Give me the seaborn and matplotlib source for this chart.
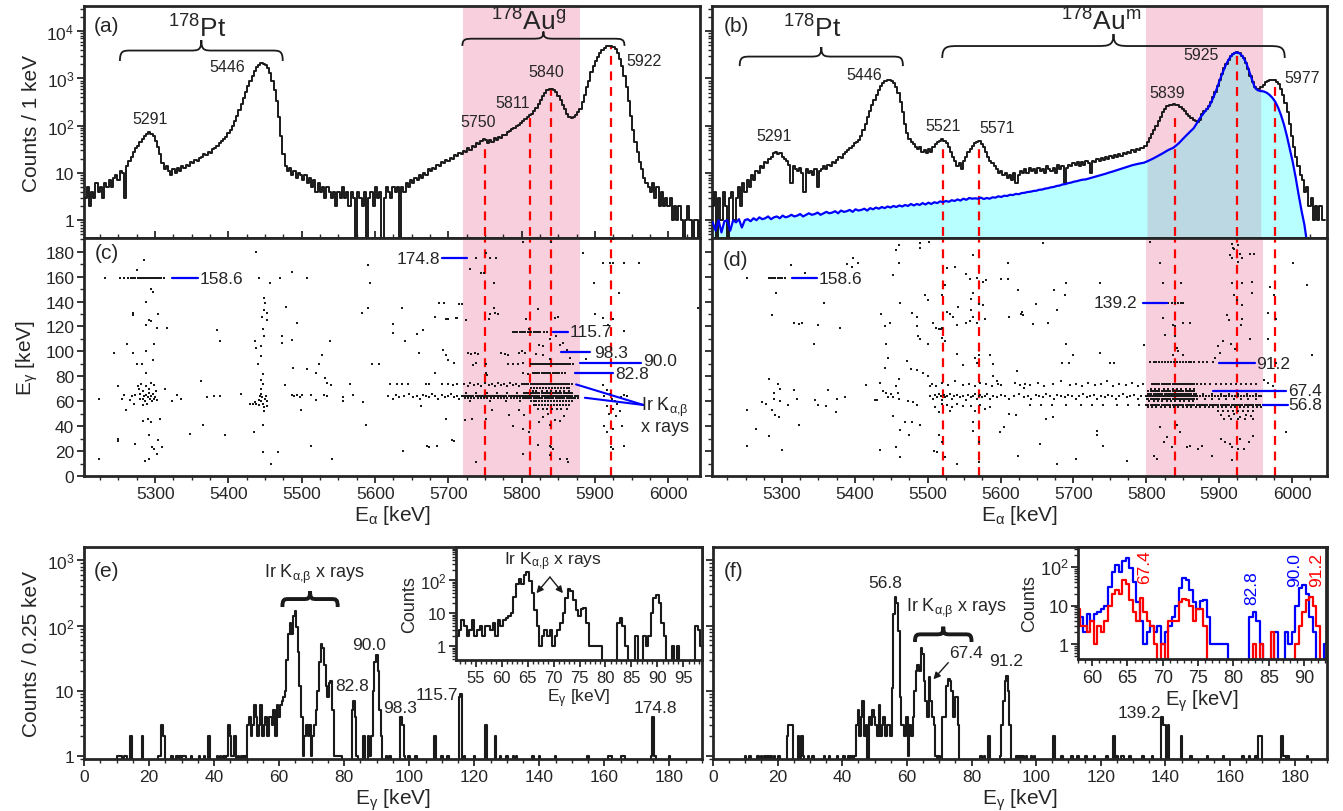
import numpy as np
import matplotlib
matplotlib.use('Agg')
import matplotlib.pyplot as plt
import seaborn as sns
from matplotlib.path import Path
from matplotlib.patches import PathPatch
import matplotlib.transforms as mtransforms
from matplotlib.ticker import MultipleLocator, FixedLocator, FixedFormatter, LogLocator, NullFormatter

# ---------------------------------------------------------------- data
# (a) alpha spectrum, 3 keV steps starting at 5205 keV
a_start, a_step = 5205, 3
a_counts = [
    3, 5, 2, 4, 3, 6, 4, 5, 3, 6,            # 5205
    5, 7, 5, 8, 9, 7, 11, 10, 3, 14,         # 5235
    18, 22, 28, 33, 38, 45, 52, 60, 66, 72,  # 5265
    68, 60, 48, 36, 25, 16, 12, 14, 11, 9,   # 5295
    12, 10, 13, 11, 14, 13, 15, 14, 17, 16,  # 5325
    19, 18, 21, 22, 25, 24, 28, 27, 32, 34,  # 5355
    38, 42, 48, 52, 58, 70, 82, 100, 125, 160,  # 5385
    210, 290, 390, 520, 680, 880, 1100, 1400, 1700, 1950,  # 5415
    2100, 2050, 1900, 1650, 1300, 900, 580, 330, 150, 60,  # 5445
    25, 14, 11, 13, 9, 11, 8, 10, 9, 7,      # 5475
    9, 6, 8, 5, 7, 4, 6, 4, 5, 3,            # 5505
    5, 4, 3, 4, 2, 4, 3, 5, 3, 4,            # 5535
    2, 4, 3, 0.1, 4, 3, 2, 4, 0.1, 3,        # 5565
    4, 2, 5, 3, 4, 0.1, 3, 5, 4, 3,          # 5595
    5, 4, 5, 0.1, 5, 4, 6, 5, 7, 6,          # 5625
    8, 7, 9, 8, 10, 9, 12, 11, 13, 12,       # 5655
    15, 14, 17, 16, 19, 18, 21, 20, 24, 23,  # 5685
    26, 25, 29, 28, 33, 31, 37, 36, 42, 40,  # 5715
    47, 52, 50, 44, 49, 46, 54, 50, 58, 56,  # 5745
    64, 62, 72, 76, 84, 90, 98, 105, 115, 125,  # 5775
    138, 150, 165, 180, 205, 240, 290, 350, 420, 490,  # 5805
    560, 600, 610, 580, 510, 430, 350, 280, 220, 180,  # 5835
    155, 145, 150, 170, 190, 230, 320, 450, 650, 900,  # 5865
    1350, 1800, 2300, 2850, 3400, 3950, 4400, 4750, 4900, 4850,  # 5895
    4600, 4100, 3400, 2600, 1800, 1150, 650, 330, 160, 80,  # 5925
    45, 28, 17, 12, 8, 6, 5, 4, 6, 3,        # 5955
    5, 2, 4, 2, 3, 2, 3, 1, 2, 1,            # 5985
    2, 1, 0.1, 1, 2, 1, 0.1, 1, 1, 0.1,      # 6015
    1]                                       # 6045

# (b) alpha spectrum, 3 keV steps starting at 5205 keV
b_start, b_step = 5205, 3
b_counts = [
    2, 4, 0.1, 3, 1, 4, 2, 0.1, 3, 4,        # 5205
    1, 3, 5, 2, 6, 4, 7, 5, 9, 7,            # 5235
    11, 10, 14, 13, 17, 16, 20, 22, 26, 28,  # 5265
    25, 27, 22, 20, 18, 15, 6, 14, 12, 11,   # 5295
    13, 10, 4, 12, 10, 11, 9, 12, 5, 11,     # 5325
    12, 14, 12, 15, 14, 17, 16, 19, 22, 21,  # 5355
    25, 28, 30, 34, 38, 42, 45, 50, 60, 80,  # 5385
    110, 150, 200, 270, 350, 450, 560, 680, 800, 880,  # 5415
    920, 940, 900, 800, 650, 480, 320, 190, 110, 70,   # 5445
    52, 45, 40, 36, 32, 35, 28, 30, 26, 32,  # 5475
    28, 36, 40, 45, 48, 52, 48, 42, 35, 28,  # 5505
    22, 18, 14, 16, 12, 18, 22, 28, 32, 38,  # 5535
    42, 45, 48, 40, 35, 28, 22, 18, 16, 14,  # 5565
    12, 10, 11, 9, 10, 8, 9, 7, 10, 6,       # 5595
    9, 11, 10, 12, 10, 13, 11, 12, 10, 13,   # 5625
    11, 12, 10, 14, 12, 11, 13, 10, 15, 12,  # 5655
    14, 6, 13, 15, 14, 16, 15, 17, 14, 17,   # 5685
    15, 18, 16, 10, 18, 17, 20, 18, 21, 19,  # 5715
    22, 20, 23, 21, 24, 22, 25, 23, 27, 25,  # 5745
    28, 26, 30, 28, 32, 30, 34, 33, 38, 45,  # 5775
    55, 68, 82, 100, 125, 155, 190, 225, 255, 270,     # 5805
    280, 285, 280, 270, 250, 225, 200, 175, 160, 145,  # 5835
    130, 125, 122, 130, 175, 200, 225, 260, 310, 400,  # 5865
    520, 700, 930, 1250, 1650, 2050, 2500, 2950, 3300, 3500,  # 5895
    3560, 3380, 3000, 2650, 2150, 1600, 1150, 850, 660, 590,  # 5925
    600, 660, 740, 820, 880, 920, 930, 910, 850, 750,  # 5955
    600, 450, 300, 190, 110, 60, 35, 22, 14, 9,        # 5985
    7, 4, 5, 2, 3, 1, 2, 1, 2, 1,            # 6015
    1]                                       # 6045

# (b) fitted 178Au^m contribution (blue), 4 keV steps starting at 5205 keV
bfit_start, bfit_step = 5205, 4
bfit_counts = [
    0.9, 0.6, 1.0, 0.55, 0.95, 1.0, 0.6, 1.0, 0.9, 1.05,   # 5205
    0.7, 1.0, 1.05, 0.95, 1.1, 1.0, 1.15, 1.05, 1.1, 1.2,   # 5245
    1.05, 1.15, 1.2, 1.1, 1.25, 1.15, 1.2, 1.3, 1.2, 1.25,  # 5285
    1.35, 1.2, 1.3, 1.4, 1.3, 1.35, 1.45, 1.3, 1.4, 1.5,    # 5325
    1.4, 1.45, 1.55, 1.4, 1.6, 1.5, 1.55, 1.65, 1.5, 1.7,   # 5365
    1.6, 1.65, 1.75, 1.6, 1.8, 1.7, 1.85, 1.75, 1.9, 1.8,   # 5405
    1.95, 1.85, 2.0, 1.9, 2.05, 1.95, 2.1, 2.0, 2.2, 2.05,  # 5445
    2.2, 2.1, 2.3, 2.15, 2.35, 2.2, 2.4, 2.3, 2.5, 2.4,     # 5485
    2.55, 2.45, 2.65, 2.55, 2.75, 2.6, 2.85, 2.7, 2.95, 2.85,  # 5525
    2.9, 2.85, 3.0, 2.8, 2.95, 2.85, 3.05, 3.0, 3.2, 3.1,   # 5565
    3.3, 3.25, 3.45, 3.4, 3.6, 3.55, 3.75, 3.8, 3.95, 4.0,  # 5605
    4.15, 4.2, 4.4, 4.45, 4.65, 4.75, 4.95, 5.05, 5.3, 5.4,  # 5645
    5.7, 5.8, 6.1, 6.25, 6.55, 6.7, 7.0, 7.2, 7.3, 7.6,     # 5685
    7.9, 8.2, 8.6, 8.9, 9.3, 9.7, 10.2, 10.6, 11.1, 11.6,   # 5725
    12.2, 12.8, 13.4, 14.0, 14.6, 15.1, 15.6, 16.0, 16.5, 17.5,  # 5765
    18.7, 20.0, 21.6, 23.3, 25.2, 27.4, 29.8, 32, 34, 38,   # 5805
    43, 50, 58, 67, 77, 88, 110, 140, 170, 205,             # 5845
    240, 310, 430, 620, 930, 1350, 1900, 2500, 3050, 3450,  # 5885
    3550, 3300, 2800, 2150, 1450, 950, 640, 560, 540, 530,  # 5925
    500, 450, 390, 320, 240, 165, 105, 60, 32, 17,          # 5965
    8, 3.5, 1.6, 0.8, 0.3]                                   # 6005

a_peaks = [5750, 5811, 5840, 5922]
a_peak_tops = [44, 147, 630, 4600]
a_peak_labels = ['5750', '5811', '5840', '5922']
a_label_pos = [(5741, 0.504), (5788, 0.586), (5833, 0.716), (5966, 0.763)]
a_other_labels = [('5291', 5293, 0.513), ('5446', 5399, 0.741)]

b_peaks = [5521, 5571, 5839, 5925, 5977]
b_peak_tops = [44, 36, 170, 3100, 750]
b_labels = [('5291', 5289, 0.44), ('5446', 5413, 0.703), ('5521', 5521, 0.487),
            ('5571', 5595, 0.478), ('5839', 5828, 0.629), ('5925', 5875, 0.789),
            ('5977', 6014, 0.69)]

a_gate = (5720, 5880)
b_gate = (5800, 5960)

# (c) alpha-gamma coincidences (E_alpha, E_gamma)
c_pairs = [
    (5224, 62), (5224, 14), (5232, 159), (5244, 99), (5250, 72), (5250, 30), (5250, 28),
    (5255, 62), (5257, 65), (5261, 106), (5260, 53), (5270, 99), (5270, 131), (5270, 129),
    (5272, 26), (5275, 90), (5282, 90),
    (5276, 72), (5278, 70), (5280, 66), (5281, 74), (5283, 62), (5284, 68), (5285, 64),
    (5286, 60), (5287, 72), (5288, 65), (5289, 58), (5290, 63), (5291, 70), (5292, 67),
    (5293, 62), (5294, 75), (5295, 64), (5296, 60), (5297, 66), (5298, 73), (5299, 62),
    (5300, 63), (5301, 68), (5302, 61), (5279, 62), (5284, 57), (5266, 61), (5268, 64),
    (5271, 58), (5273, 65),
    (5285, 173), (5275, 165), (5288, 83), (5288, 140), (5287, 121), (5291, 125), (5295, 124),
    (5295, 150), (5297, 148), (5288, 100), (5297, 93), (5284, 44), (5290, 46), (5286, 12),
    (5292, 14), (5291, 33), (5295, 43), (5296, 23), (5298, 22), (5299, 106), (5302, 18),
    (5304, 130), (5302, 119), (5307, 46), (5304, 29), (5309, 23), (5316, 119), (5314, 70),
    (5323, 60), (5330, 65), (5335, 62), (5348, 34), (5362, 76), (5365, 41), (5371, 63),
    (5380, 64), (5388, 64), (5385, 117), (5388, 108), (5395, 33), (5417, 66),
    (5430, 58), (5433, 58), (5436, 59), (5438, 58), (5441, 57), (5435, 35), (5438, 180),
    (5441, 159), (5436, 108), (5437, 103), (5445, 104), (5445, 96), (5440, 90), (5447, 82),
    (5448, 143), (5450, 139), (5449, 133), (5452, 131), (5446, 128), (5453, 125), (5447, 118),
    (5449, 112), (5441, 61), (5443, 64), (5444, 60), (5445, 66), (5446, 63), (5447, 58),
    (5448, 55), (5449, 52), (5450, 62), (5451, 64), (5452, 60), (5453, 56), (5445, 70),
    (5447, 74), (5444, 77), (5447, 41), (5447, 19),
    (5457, 155), (5458, 10), (5468, 19), (5470, 159), (5473, 112), (5473, 107), (5477, 73),
    (5479, 136), (5486, 164), (5486, 109), (5488, 87), (5494, 123), (5486, 65), (5490, 64),
    (5494, 65), (5497, 63), (5500, 65), (5499, 53), (5507, 159), (5507, 86), (5512, 65),
    (5519, 61), (5513, 24), (5520, 83), (5523, 90), (5528, 97), (5530, 65), (5534, 64),
    (5532, 79), (5535, 75), (5540, 73), (5538, 108), (5541, 14), (5556, 63), (5556, 60),
    (5566, 74), (5570, 65), (5584, 59), (5587, 41), (5582, 131), (5590, 135), (5590, 169),
    (5593, 155), (5596, 90), (5605, 90),
    (5620, 74), (5630, 74), (5637, 74), (5645, 74), (5625, 122), (5625, 115), (5637, 135),
    (5638, 20), (5641, 108), (5657, 114), (5665, 117), (5660, 99), (5662, 56), (5669, 74),
    (5673, 74), (5671, 24), (5673, 23), (5682, 83), (5682, 128), (5685, 24), (5687, 139),
    (5694, 139), (5692, 101), (5696, 46), (5699, 126), (5699, 93), (5708, 28), (5708, 91),
    (5712, 127),
    (5737, 175), (5751, 179), (5756, 175), (5765, 175), (5730, 166), (5744, 163), (5748, 163),
    (5762, 155), (5801, 188), (5840, 188), (5884, 179), (5911, 171), (5920, 171), (5925, 171),
    (5939, 171), (5960, 171), (5925, 190), (5898, 155), (5932, 147), (6040, 135), (5714, 138),
    (5719, 138), (5762, 135), (5764, 131), (5767, 130), (5696, 126), (5710, 127), (5724, 125),
    (5755, 126), (5757, 130), (5806, 126), (5822, 134), (5810, 118), (5845, 127), (5850, 128),
    (5900, 130), (5911, 127), (5925, 126), (5939, 116), (5917, 121),
    (5824, 105), (5829, 104), (5838, 110), (5846, 112), (5852, 105), (5856, 107), (5862, 101),
    (5726, 99), (5731, 98), (5736, 99), (5740, 98), (5772, 99), (5777, 98), (5781, 97),
    (5796, 99), (5800, 100), (5805, 99), (5820, 98), (5829, 97), (5696, 97), (5700, 93),
    (5733, 89), (5737, 91), (5751, 90), (5781, 90), (5788, 90), (5795, 90), (5801, 91),
    (5838, 94), (5866, 95), (5888, 94), (5902, 91), (5751, 83), (5753, 81), (5801, 83),
    (5808, 82), (5691, 74), (5700, 74), (5706, 73), (5712, 74),
    (5723, 45), (5732, 46), (5751, 46), (5760, 53), (5782, 49), (5796, 53), (5803, 49),
    (5788, 40), (5801, 38), (5810, 35), (5824, 43), (5838, 41), (5829, 47), (5836, 50),
    (5845, 45), (5852, 44), (5858, 48), (5838, 24), (5840, 23), (5843, 22), (5801, 18),
    (5822, 25), (5838, 17), (5852, 14), (5861, 14), (5863, 11), (5737, 11), (5705, 29),
    (5911, 73), (5916, 69), (5920, 66), (5923, 62), (5927, 60), (5930, 58), (5916, 56),
    (5925, 54), (5934, 52), (5919, 50), (5929, 48), (5912, 64), (5935, 63), (5940, 65),
    (5944, 64), (5912, 40), (5925, 38), (5937, 40), (5916, 35), (5921, 23), (5925, 22),
    (5939, 24), (5996, 54),
    # sparse part of the 64 keV band
    (5618, 64), (5624, 62), (5629, 65), (5633, 63), (5640, 64), (5646, 66), (5652, 63),
    (5657, 64), (5661, 62), (5665, 65), (5670, 64), (5674, 63), (5678, 66), (5682, 64),
    (5686, 62), (5691, 65), (5695, 63), (5699, 64), (5703, 66), (5707, 63), (5711, 64),
    (5715, 62),
    # sparse part of the 73 keV band
    (5721, 74), (5726, 72), (5730, 75), (5735, 73), (5740, 74), (5745, 72), (5750, 75),
    (5755, 73), (5760, 74), (5764, 72), (5768, 75), (5772, 73), (5776, 74), (5780, 72),
    (5784, 75), (5788, 73), (5792, 74), (5796, 72)]
# (c) dense rows: (E_gamma of row, E_alpha values)
c_rows = [
    (158.6, [5252, 5258, 5263, 5267, 5270, 5273, 5276, 5278, 5280, 5282, 5284, 5286, 5288,
             5290, 5292, 5294, 5296, 5298, 5300, 5302, 5305, 5308, 5312]),
    (115.7, [5788, 5791, 5794, 5797, 5800, 5802, 5805, 5808, 5810, 5813, 5816, 5819, 5822,
             5825, 5830, 5834]),
    (90.0, [5813, 5815, 5817, 5819, 5821, 5823, 5825, 5827, 5829, 5831, 5833, 5835, 5837,
            5839, 5841, 5843, 5845, 5847, 5849, 5851, 5853, 5855, 5857, 5860, 5863, 5866, 5870]),
    (82.8, [5815, 5818, 5821, 5824, 5827, 5830, 5833, 5836, 5839, 5842, 5845, 5848, 5851,
            5855, 5859]),
    (73.5, [5800, 5803, 5806, 5809, 5812, 5814, 5816, 5818,
            5820, 5822, 5824, 5826, 5828, 5830, 5832, 5834, 5836, 5838, 5840, 5842, 5844,
            5846, 5848, 5850, 5852, 5854, 5856, 5858, 5860, 5862, 5865, 5868]),
    (71.0, [5813, 5817, 5821, 5825, 5829, 5833, 5837, 5841, 5845, 5849, 5853, 5857, 5861, 5865]),
    (68.5, [5815, 5820, 5827, 5834, 5840, 5846, 5852, 5858, 5864]),
    (66.5, [5724, 5738, 5752, 5766, 5780, 5794, 5803, 5806, 5809, 5812, 5815, 5818, 5821,
            5824, 5827, 5830, 5833, 5836, 5839, 5842, 5845, 5848, 5851, 5854, 5857, 5860,
            5863, 5866, 5869]),
    (64.5, [5719, 5721, 5723, 5725,
            5728, 5730, 5732, 5734, 5737, 5739, 5741, 5743, 5746, 5748, 5750, 5752, 5755,
            5757, 5759, 5761, 5764, 5766, 5768, 5770, 5773, 5775, 5777, 5779, 5782, 5784,
            5786, 5788, 5791, 5793, 5795, 5797, 5800, 5802, 5804, 5806, 5809, 5811, 5813,
            5815, 5818, 5820, 5822, 5824, 5827, 5829, 5831, 5833, 5836, 5838, 5840, 5842,
            5845, 5847, 5849, 5851, 5854, 5856, 5858, 5860, 5863, 5865, 5867, 5869, 5872,
            5874, 5877]),
    (62.8, [5722, 5726, 5731, 5735, 5740, 5744, 5749, 5753, 5758, 5762, 5767, 5771, 5776,
            5780, 5785, 5789, 5794, 5798, 5801, 5804, 5807, 5810, 5813, 5816, 5819, 5822,
            5825, 5828, 5831, 5834, 5837, 5840, 5843, 5846, 5849, 5852, 5855, 5858, 5861,
            5864, 5867, 5870, 5873, 5876]),
    (60.0, [5730, 5756, 5778, 5798, 5812, 5816, 5820, 5824, 5828, 5832, 5836, 5840, 5844,
            5848, 5852, 5856, 5860, 5864, 5868]),
    (57.0, [5816, 5820, 5824, 5828, 5832, 5836, 5840, 5844, 5848, 5852, 5856, 5860, 5864]),
    (54.0, [5822, 5829, 5835, 5841, 5848, 5854, 5861])]

# (d) alpha-gamma coincidences
d_pairs = [
    (5252, 159), (5312, 169), (5332, 163), (5292, 147), (5286, 129), (5317, 123), (5323, 122),
    (5327, 123), (5350, 121), (5358, 139), (5379, 119), (5344, 106), (5389, 170), (5398, 175),
    (5405, 171), (5396, 168),
    (5282, 78), (5294, 74), (5298, 70), (5289, 67), (5289, 62), (5298, 60), (5273, 59),
    (5278, 58), (5320, 62), (5317, 69), (5308, 57), (5345, 61), (5350, 57), (5361, 56),
    (5363, 69), (5375, 62), (5374, 51), (5386, 63), (5252, 53), (5287, 53), (5291, 49),
    (5296, 47), (5264, 38), (5282, 32), (5323, 41), (5252, 24), (5300, 21),
    (5416, 73), (5428, 61), (5430, 61), (5434, 75), (5438, 68), (5443, 67), (5450, 66),
    (5452, 63), (5446, 63), (5436, 130), (5441, 120), (5448, 123), (5443, 106), (5446, 95),
    (5441, 87), (5453, 48), (5457, 181), (5461, 185), (5460, 171), (5452, 161), (5462, 139),
    (5460, 78), (5456, 72), (5459, 67), (5460, 62), (5462, 37), (5469, 43), (5478, 43),
    (5462, 15), (5475, 33), (5434, 21), (5456, 23), (5472, 92), (5477, 86), (5486, 85),
    (5473, 60), (5480, 59), (5485, 57), (5478, 131), (5485, 128), (5485, 120), (5487, 112),
    (5489, 110), (5490, 187), (5502, 188), (5490, 183), (5496, 145), (5500, 141), (5500, 106),
    (5489, 41), (5494, 83), (5500, 80), (5503, 72), (5507, 123), (5512, 119), (5516, 118),
    (5518, 118), (5509, 20), (5513, 19),
    (5519, 145), (5524, 153), (5526, 167), (5537, 168), (5520, 119), (5519, 111), (5524, 108),
    (5526, 132), (5530, 130), (5535, 128), (5542, 136), (5540, 121), (5516, 33), (5519, 27),
    (5524, 15), (5540, 10), (5540, 98), (5549, 89), (5553, 162), (5558, 158), (5567, 159),
    (5562, 43), (5562, 36), (5562, 177), (5560, 142), (5562, 147), (5560, 133), (5562, 128),
    (5571, 138), (5576, 137), (5553, 123), (5558, 124), (5567, 123), (5565, 95), (5567, 91),
    (5571, 97), (5570, 27), (5570, 11), (5576, 156), (5580, 157), (5579, 126), (5585, 97),
    (5590, 90), (5590, 80), (5595, 76), (5600, 73), (5601, 158), (5610, 158), (5610, 171),
    (5612, 128), (5624, 149), (5622, 84), (5628, 130), (5631, 129), (5599, 35), (5605, 39),
    (5624, 16), (5612, 50), (5621, 49),
    (5520, 58), (5526, 57), (5533, 55), (5540, 58), (5548, 56), (5560, 56), (5565, 52),
    (5572, 57), (5578, 54), (5585, 55), (5510, 55), (5515, 51), (5530, 52),
    (5658, 187), (5690, 155), (5674, 149), (5688, 145), (5677, 133), (5665, 123), (5645, 122),
    (5649, 138), (5630, 132), (5737, 155), (5690, 106), (5700, 97), (5684, 91), (5694, 91),
    (5737, 99), (5750, 91), (5756, 91),
    (5663, 46), (5672, 47), (5733, 36), (5733, 33), (5741, 24), (5654, 26), (5703, 14),
    (5678, 10), (5774, 12), (5797, 105), (5805, 188), (5819, 171), (5823, 155), (5848, 155),
    (5823, 127), (5837, 121), (5840, 120), (5851, 123), (5860, 123), (5825, 113), (5840, 112),
    (5842, 103), (5836, 97), (5851, 97), (5844, 100),
    (5917, 186), (5919, 183), (5926, 185), (5921, 182), (5915, 177), (5928, 178), (5943, 178),
    (5948, 178), (5917, 175), (5926, 172), (5931, 175), (5917, 155), (5931, 155), (5945, 156),
    (5970, 152), (5975, 145), (5945, 147), (5920, 145), (5925, 141), (5931, 137), (5911, 129),
    (5913, 125), (5932, 126), (5930, 121), (5905, 108), (5916, 106), (5943, 110), (5922, 102),
    (5898, 104), (5894, 95), (5901, 99), (5967, 110), (5978, 91), (5978, 126), (5967, 131),
    (5962, 77), (5967, 75), (5974, 72), (5992, 35), (6001, 171), (6021, 153), (6028, 97),
    (5810, 16), (5815, 14), (5824, 27), (5835, 23), (5842, 41), (5856, 23), (5860, 24),
    (5871, 22), (5876, 24), (5903, 30), (5908, 27), (5915, 26), (5917, 23), (5926, 22),
    (5928, 30), (5934, 22), (5941, 27), (5947, 32), (5918, 13), (5890, 16), (5819, 39),
    (5828, 31), (5846, 35),
    (5903, 49), (5913, 48), (5921, 50), (5929, 47), (5937, 49), (5944, 48),
    # sparse part of the 64 keV band
    (5503, 64), (5507, 62), (5510, 65), (5513, 63), (5516, 66), (5518, 64), (5520, 61),
    (5522, 65), (5524, 63), (5527, 64), (5530, 66), (5533, 62), (5536, 64), (5540, 65),
    (5544, 63), (5548, 64), (5552, 61), (5556, 65), (5559, 63), (5562, 64), (5565, 66),
    (5568, 62), (5570, 64), (5572, 65), (5575, 63), (5578, 64), (5582, 66), (5586, 62),
    (5590, 64), (5595, 63), (5600, 65), (5606, 64), (5612, 62), (5618, 64), (5625, 66),
    (5632, 63), (5638, 64), (5642, 62), (5648, 65), (5653, 64), (5658, 63), (5663, 66),
    (5668, 64), (5673, 62), (5678, 65), (5683, 64), (5688, 63), (5693, 65), (5698, 64),
    (5703, 62), (5708, 64), (5713, 66), (5718, 63), (5723, 64), (5728, 65), (5733, 62),
    (5738, 64), (5743, 63), (5748, 65), (5753, 64), (5758, 62), (5763, 64), (5768, 66),
    (5773, 63), (5778, 64), (5783, 65), (5788, 62), (5793, 64),
    # sparse part of the 73 keV band
    (5506, 74), (5512, 72), (5520, 75), (5528, 73), (5537, 76), (5548, 73), (5557, 74),
    (5565, 72), (5572, 75), (5580, 74), (5588, 72), (5596, 74), (5620, 75), (5626, 73),
    (5633, 74), (5632, 71), (5641, 73), (5652, 75), (5660, 72), (5672, 74), (5683, 76),
    (5695, 73), (5703, 74), (5712, 72), (5720, 75), (5730, 73), (5738, 74), (5746, 76),
    (5755, 72), (5762, 74), (5772, 73), (5780, 75), (5788, 72), (5795, 74)]
d_rows = [
    (158.6, [5282, 5285, 5288, 5291, 5294, 5297, 5300, 5304]),
    (139.2, [5830, 5835, 5840, 5843, 5847, 5851]),
    (91.2, [5805, 5810, 5814, 5818, 5822, 5826, 5830, 5834, 5838, 5842, 5846, 5850, 5854,
            5858, 5862, 5866, 5872, 5878, 5884, 5892]),
    (73.5, [5808, 5811, 5813, 5816, 5818,
            5821, 5823, 5826, 5828, 5831, 5833, 5836, 5838, 5841, 5843, 5846, 5848, 5851,
            5853, 5856, 5858, 5861, 5863, 5866, 5869, 5875, 5881, 5888, 5895, 5902, 5909,
            5916, 5923, 5930, 5937, 5944, 5951]),
    (70.0, [5806, 5812, 5818, 5824, 5830, 5836, 5842, 5848, 5854, 5860, 5866]),
    (68.0, [5803, 5806, 5809, 5812, 5815, 5818, 5821, 5824, 5827, 5830, 5833, 5836, 5839,
            5842, 5845, 5848, 5851, 5854, 5857, 5860, 5863, 5866]),
    (66.0, [5802, 5805, 5807, 5810, 5812, 5815, 5817, 5820, 5822, 5825, 5827, 5830, 5832,
            5835, 5837, 5840, 5842, 5845, 5847, 5850, 5852, 5855, 5857, 5860, 5862, 5865,
            5868, 5878, 5890, 5902, 5914, 5926, 5938, 5950]),
    (64.0, [5800, 5802, 5804, 5806, 5808, 5810, 5812, 5814, 5816, 5818,
            5820, 5822, 5824, 5826, 5828, 5830, 5832, 5834, 5836, 5838, 5840, 5842, 5844,
            5846, 5848, 5850, 5852, 5854, 5856, 5858, 5860, 5862, 5864, 5866, 5868, 5870,
            5874, 5878, 5882, 5886, 5890, 5894, 5898, 5902, 5906, 5910, 5914, 5918, 5922,
            5926, 5930, 5934, 5938, 5942, 5946, 5950, 5954, 5958]),
    (62.0, [5801, 5803, 5806, 5808, 5811, 5813, 5816, 5818, 5821, 5823, 5826, 5828, 5831,
            5833, 5836, 5838, 5841, 5843, 5846, 5848, 5851, 5853, 5856, 5858, 5861, 5863,
            5866, 5869, 5880, 5890, 5900, 5910, 5920, 5930, 5940, 5950]),
    (60.0, [5804, 5810, 5816, 5822, 5828, 5834, 5840, 5846, 5852, 5858, 5864]),
    (57.2, [5640, 5655, 5671, 5690, 5710, 5725, 5740, 5760, 5775, 5790, 5800, 5803, 5806,
            5809, 5812, 5815, 5818, 5821, 5824, 5827, 5830, 5833, 5836, 5839, 5842, 5845,
            5848, 5851, 5854, 5857, 5860, 5863, 5866, 5869, 5872, 5875, 5878, 5881, 5884,
            5887, 5890, 5893, 5896, 5899, 5902, 5905, 5908, 5911, 5914, 5917, 5920, 5923,
            5926, 5929, 5932, 5935, 5938, 5941, 5944, 5947, 5950, 5953, 5956, 5960]),
    (55.0, [5802, 5808, 5814, 5820, 5826, 5832, 5838, 5844, 5850, 5856, 5862, 5868, 5874,
            5880, 5886, 5892, 5898, 5904, 5910, 5916, 5922, 5928, 5934, 5940, 5946, 5952, 5958]),
    (52.0, [5898, 5905, 5912, 5919, 5926, 5933, 5940, 5947]),
    (45.5, [5906, 5916, 5926, 5936, 5946])]

# gamma label lines in (c) and (d): (label, x0, x1, y, text x, text y, ha)
c_glabels = [('158.6', 5323, 5358, 158.6, 5361, 158.6, 'left'),
             ('174.8', 5691, 5725, 174.8, 5689, 174.8, 'right'),
             ('115.7', 5843, 5863, 115.7, 5865, 115.7, 'left'),
             ('98.3', 5853, 5893, 99.5, 5898, 99.5, 'left'),
             ('90.0', 5879, 5962, 90.3, 5965, 92.5, 'left'),
             ('82.8', 5872, 5925, 82.5, 5928, 82.0, 'left')]
d_glabels = [('158.6', 5314, 5348, 158.6, 5350, 158.6, 'left'),
             ('139.2', 5795, 5828, 139.2, 5787, 139.2, 'right'),
             ('91.2', 5900, 5949, 90.5, 5951, 90.5, 'left'),
             ('67.4', 5892, 5992, 68.6, 5995, 68.6, 'left'),
             ('56.8', 5960, 5994, 57.2, 5995, 57.2, 'left')]

# (e) gamma spectrum gated on 178Au^g (bin centre keV, counts), 0.5 keV bins
e_pairs = [
    (10.5, 1), (11.0, 1), (11.5, 1), (12.5, 1), (13.0, 1), (14.5, 2), (18.0, 2), (23.0, 1),
    (23.5, 1), (24.0, 3), (24.5, 2), (27.0, 1), (28.5, 1), (29.5, 1), (30.5, 1), (31.0, 1),
    (33.0, 1), (35.5, 1), (37.0, 1), (38.5, 2), (41.0, 1), (42.0, 1), (43.0, 1), (44.0, 1),
    (44.5, 3), (45.0, 2), (45.5, 1), (46.0, 1), (46.5, 2), (47.5, 1), (48.5, 1), (49.5, 1),
    (50.5, 3), (51.0, 4), (51.5, 2), (52.0, 3), (52.5, 6), (53.0, 4), (53.5, 2), (54.0, 3),
    (54.5, 6), (55.0, 2), (55.5, 3), (56.0, 4), (56.5, 2), (57.0, 4), (57.5, 4), (58.0, 3),
    (58.5, 5), (59.0, 2), (59.5, 6), (60.0, 4), (60.5, 6), (61.0, 7), (61.5, 8), (62.0, 10),
    (62.5, 30), (63.0, 75), (63.5, 110), (64.0, 75), (64.5, 140), (65.0, 170), (65.5, 95),
    (66.0, 40), (66.5, 12), (67.0, 4), (67.5, 1), (68.0, 2), (68.5, 3), (69.0, 2), (69.5, 3),
    (70.0, 1), (70.5, 2), (71.0, 3), (71.5, 5), (72.0, 10), (72.5, 28), (73.0, 52),
    (73.5, 45), (74.0, 25), (74.5, 12), (75.0, 8), (75.5, 13), (76.0, 14), (76.5, 5),
    (77.0, 1), (77.5, 1), (78.0, 1), (78.5, 1), (79.0, 1), (82.5, 5), (83.0, 7), (83.5, 4),
    (84.0, 1), (86.0, 2), (87.5, 2), (88.0, 1), (88.5, 2), (89.0, 10), (89.5, 28), (90.0, 35),
    (90.5, 20), (91.0, 5), (91.5, 2), (93.0, 1), (94.0, 1), (97.5, 4), (98.0, 3), (98.5, 1),
    (100.0, 1), (102.0, 1), (108.0, 2), (110.0, 1), (112.0, 1), (115.5, 8), (116.0, 9),
    (117.0, 1), (120.0, 1), (123.5, 3), (126.5, 2), (128.0, 1), (130.0, 1), (132.0, 1),
    (133.0, 1), (138.0, 1), (140.0, 1), (145.0, 1), (155.0, 1), (161.5, 1), (162.0, 1),
    (165.5, 1), (166.0, 1), (174.5, 1), (175.0, 4), (175.5, 1), (180.0, 1)]

# (f) gamma spectrum gated on 178Au^m
f_pairs = [
    (10.0, 1), (11.5, 1), (14.0, 1), (15.0, 1), (16.0, 1), (17.0, 1), (18.0, 1), (19.0, 1),
    (20.5, 1), (23.0, 2), (23.5, 3), (24.0, 3), (24.5, 3), (26.5, 2), (27.5, 2), (28.0, 1),
    (29.5, 1), (31.0, 1), (34.5, 1), (36.0, 1), (38.5, 1), (40.5, 1), (42.0, 1), (43.0, 1),
    (44.0, 1), (44.5, 3), (45.0, 5), (45.5, 2), (46.0, 4), (46.5, 7), (47.0, 2), (47.5, 3),
    (48.5, 4), (49.0, 3), (49.5, 5), (50.0, 4), (50.5, 3), (51.0, 2), (51.5, 6), (52.0, 2),
    (52.5, 3), (53.0, 4), (53.5, 2), (54.0, 3), (54.5, 3), (55.0, 2), (55.5, 11), (56.0, 150),
    (56.5, 270), (57.0, 225), (57.5, 83), (58.0, 8), (58.5, 3), (59.0, 3), (59.5, 2),
    (60.0, 4), (60.5, 1), (61.0, 3), (61.5, 2), (62.0, 4), (62.5, 10), (63.0, 20), (63.5, 25),
    (64.0, 20), (64.5, 46), (65.0, 36), (65.5, 14), (66.0, 7), (66.5, 4), (67.0, 16),
    (67.5, 7), (68.0, 4), (68.5, 3), (69.0, 1), (70.0, 1), (71.0, 4), (71.5, 4), (72.0, 4),
    (72.5, 12), (73.0, 15), (73.5, 14), (74.0, 10), (74.5, 4), (75.0, 8), (75.5, 8), (76.0, 3),
    (83.0, 1), (84.0, 1), (85.5, 2), (89.0, 1), (89.5, 3), (90.0, 7), (90.5, 14), (91.0, 17),
    (91.5, 10), (92.0, 3), (94.0, 1), (95.0, 1), (96.0, 1), (97.0, 1), (98.5, 1), (99.5, 1),
    (105.5, 2), (108.0, 1), (111.0, 1), (113.0, 1), (115.5, 1), (118.0, 1), (122.0, 1),
    (124.0, 2), (125.0, 1), (126.5, 1), (127.0, 1), (129.0, 1), (133.0, 1), (136.0, 1),
    (139.0, 4), (139.5, 3), (140.0, 3), (141.0, 3), (145.0, 2), (148.0, 1), (153.0, 1),
    (158.0, 1), (164.0, 1), (166.0, 1), (168.0, 1), (169.0, 2), (169.5, 2), (176.0, 2),
    (176.5, 1), (177.0, 1), (178.0, 1), (184.0, 1)]
g_binwidth = 0.5
g_binrange = (-0.25, 190.25)

# ---------------------------------------------------------------- style
sns.set_theme(style='ticks')
plt.rcParams['font.family'] = ['Liberation Sans', 'DejaVu Sans']
plt.rcParams['mathtext.fontset'] = 'custom'
plt.rcParams['mathtext.rm'] = 'Liberation Sans'
plt.rcParams['mathtext.it'] = 'Liberation Sans:italic'
plt.rcParams['mathtext.bf'] = 'Liberation Sans:bold'
plt.rcParams['axes.linewidth'] = 2.0
plt.rcParams['xtick.major.width'] = 1.3
plt.rcParams['ytick.major.width'] = 1.3
plt.rcParams['xtick.minor.width'] = 1.0
plt.rcParams['ytick.minor.width'] = 1.0

PINK = '#f8d0dd'
CYAN = '#b8ffff'
OVER = '#bcd8e2'
RED = '#ff0000'
BLUE = '#0000ff'
TICKFS = 12.5
LABFS = 15
IRK = r'Ir K$_{\mathrm{α{,}β}}$'

W, H = 1343, 812
fig = plt.figure(figsize=(W / 100, H / 100), dpi=100)


def ax_px(l, t, r, b):
    return fig.add_axes([l / W, 1 - b / H, (r - l) / W, (b - t) / H])


ax_a = ax_px(84, 7, 700, 239)
ax_c = ax_px(84, 239, 700, 477)
ax_b = ax_px(712, 7, 1327, 239)
ax_d = ax_px(712, 239, 1327, 477)
ax_e = ax_px(84, 548, 702, 760)
ax_f = ax_px(713, 548, 1327, 760)


def brace(ax, x0, x1, yb, h, lw=1.3, frac=0.07):
    xm = 0.5 * (x0 + x1)
    r = (x1 - x0) * frac
    ym = yb + 0.5 * h
    yt = yb + h
    verts = [(x0, yb), (x0, ym), (x0 + 0.3 * r, ym), (x0 + r, ym),
             (xm - r, ym),
             (xm - 0.3 * r, ym), (xm, ym), (xm, yt),
             (xm, ym), (xm + 0.3 * r, ym), (xm + r, ym),
             (x1 - r, ym),
             (x1 - 0.3 * r, ym), (x1, ym), (x1, yb)]
    C = Path.CURVE4
    codes = [Path.MOVETO, C, C, C, Path.LINETO, C, C, C, C, C, C, Path.LINETO, C, C, C]
    trans = mtransforms.blended_transform_factory(ax.transData, ax.transAxes)
    ax.add_patch(PathPatch(Path(verts, codes), fill=False, lw=lw, ec='k',
                           transform=trans, clip_on=False, zorder=6))


def log_ticks(ax, majors, labels, show=True):
    ax.set_yscale('log')
    ax.yaxis.set_major_locator(FixedLocator(majors))
    ax.yaxis.set_minor_locator(LogLocator(base=10, subs=np.arange(2, 10)))
    ax.yaxis.set_minor_formatter(NullFormatter())
    if show:
        ax.yaxis.set_major_formatter(FixedFormatter(labels))
    else:
        ax.yaxis.set_major_formatter(NullFormatter())


def common_ticks(ax):
    ax.tick_params(which='major', direction='out', length=5, labelsize=TICKFS, pad=2)
    ax.tick_params(which='minor', direction='out', length=3)


def gamma_hist(ax, E, C, color, lw):
    sns.histplot(x=E, weights=C, binwidth=g_binwidth, binrange=g_binrange, element='step',
                 fill=False, color=color, lw=lw, ax=ax)


# ---------------------------------------------------------------- (a), (b)
a_E = a_start + a_step * np.arange(len(a_counts))
b_E = b_start + b_step * np.arange(len(b_counts))
bfit_E = bfit_start + bfit_step * np.arange(len(bfit_counts))
bfit_C = np.array(bfit_counts)

for ax, xl in ((ax_a, (5203, 6043)), (ax_b, (5204, 6048))):
    ax.set_xlim(*xl)
    ax.set_ylim(0.42, 3.4e4)

ax_a.axvspan(*a_gate, color=PINK, lw=0, zorder=0)
ax_b.axvspan(*b_gate, color=PINK, lw=0, zorder=0)

inside = (bfit_E >= b_gate[0]) & (bfit_E <= b_gate[1])
ax_b.fill_between(bfit_E, bfit_C, 1e-3, color=CYAN, lw=0, zorder=1)
ax_b.fill_between(bfit_E, bfit_C, 1e-3, where=inside, color=OVER, lw=0, zorder=1.1)

sns.lineplot(x=a_E, y=a_counts, ax=ax_a, color='k', lw=1.4, estimator=None,
             drawstyle='steps-mid', zorder=4)
sns.lineplot(x=b_E, y=b_counts, ax=ax_b, color='k', lw=1.4, estimator=None,
             drawstyle='steps-mid', zorder=4)
sns.lineplot(x=bfit_E, y=bfit_C, ax=ax_b, color=BLUE, lw=1.6, estimator=None, zorder=5)

ax_a.vlines(a_peaks, 0.1, a_peak_tops, colors=RED, linestyles=(0, (4, 3)), lw=1.6, zorder=3)
ax_b.vlines(b_peaks, 0.1, b_peak_tops, colors=RED, linestyles=(0, (4, 3)), lw=1.6, zorder=3)

log_ticks(ax_a, [1, 10, 100, 1e3, 1e4], ['1', '10', r'10$^2$', r'10$^3$', r'10$^4$'])
log_ticks(ax_b, [1, 10, 100, 1e3, 1e4], [], show=False)
for ax in (ax_a, ax_b):
    common_ticks(ax)
    ax.xaxis.set_major_locator(MultipleLocator(100))
    ax.xaxis.set_minor_locator(MultipleLocator(25))
    ax.tick_params(axis='x', which='both', labelbottom=False, direction='in')
    ax.set_xlabel('')
    ax.set_ylabel('')
    ax.set_ylim(0.42, 3.4e4)
ax_a.set_ylabel('Counts / 1 keV', fontsize=LABFS, labelpad=4)

tA = mtransforms.blended_transform_factory(ax_a.transData, ax_a.transAxes)
tB = mtransforms.blended_transform_factory(ax_b.transData, ax_b.transAxes)
for lab, (x, y) in zip(a_peak_labels, a_label_pos):
    ax_a.text(x, y, lab, transform=tA, ha='center', va='center', fontsize=11.5, zorder=6)
for lab, x, y in a_other_labels:
    ax_a.text(x, y, lab, transform=tA, ha='center', va='center', fontsize=11.5, zorder=6)
for lab, x, y in b_labels:
    ax_b.text(x, y, lab, transform=tB, ha='center', va='center', fontsize=11.5, zorder=6)

ax_a.text(0.037, 0.914, '(a)', transform=ax_a.transAxes, ha='center', va='center', fontsize=15)
ax_b.text(0.039, 0.914, '(b)', transform=ax_b.transAxes, ha='center', va='center', fontsize=15)

brace(ax_a, 5252, 5474, 0.763, 0.09)
brace(ax_a, 5719, 5940, 0.828, 0.062)
brace(ax_b, 5242, 5466, 0.741, 0.082)
brace(ax_b, 5520, 5990, 0.776, 0.103, frac=0.05)
ax_a.text(5358, 0.905, r'$^{178}$Pt', transform=tA, ha='center', va='center', fontsize=19)
ax_a.text(5809, 0.935, r'$^{178}$Au$^{\mathrm{g}}$', transform=tA, ha='center', va='center',
          fontsize=19)
ax_b.text(5341, 0.905, r'$^{178}$Pt', transform=tB, ha='center', va='center', fontsize=19)
ax_b.text(5738, 0.935, r'$^{178}$Au$^{\mathrm{m}}$', transform=tB, ha='center', va='center',
          fontsize=19)

# ---------------------------------------------------------------- (c), (d)


def collect(pairs, rows):
    xs = [p[0] for p in pairs]
    ys = [p[1] for p in pairs]
    for yv, xl in rows:
        xs += list(xl)
        ys += [yv] * len(xl)
    return np.array(xs, float), np.array(ys, float)


for ax, pairs, rows, xl, gate, peaks, glabels in (
        (ax_c, c_pairs, c_rows, (5203, 6043), a_gate, a_peaks, c_glabels),
        (ax_d, d_pairs, d_rows, (5204, 6048), b_gate, b_peaks, d_glabels)):
    ax.axvspan(*gate, color=PINK, lw=0, zorder=0)
    X, Y = collect(pairs, rows)
    sns.scatterplot(x=X, y=Y, ax=ax, marker='s', s=3.2, color='k', linewidth=0, zorder=3)
    for p in peaks:
        ax.axvline(p, color=RED, ls=(0, (4, 3)), lw=1.6, zorder=2)
    for lab, x0, x1, yl, tx, ty, ha in glabels:
        ax.plot([x0, x1], [yl, yl], color=BLUE, lw=1.6, zorder=4)
        ax.text(tx, ty, lab, ha=ha, va='center', fontsize=12.5, zorder=5)
    ax.set_xlim(*xl)
    ax.set_ylim(0, 191)
    common_ticks(ax)
    ax.xaxis.set_major_locator(MultipleLocator(100))
    ax.xaxis.set_minor_locator(MultipleLocator(25))
    ax.yaxis.set_major_locator(MultipleLocator(20))
    ax.yaxis.set_minor_locator(MultipleLocator(10))
    ax.set_xlabel(r'E$_{\mathrm{α}}$ [keV]', fontsize=LABFS, labelpad=2)
    ax.set_ylabel('')

ax_d.tick_params(axis='y', which='both', labelleft=False)
ax_c.set_ylabel(r'E$_{\mathrm{γ}}$ [keV]', fontsize=LABFS, labelpad=4)
ax_c.text(0.037, 0.937, '(c)', transform=ax_c.transAxes, ha='center', va='center', fontsize=15)
ax_d.text(0.039, 0.91, '(d)', transform=ax_d.transAxes, ha='center', va='center', fontsize=15)

ax_c.plot([5874, 5966], [73.5, 57], color=BLUE, lw=1.5, zorder=4)
ax_c.plot([5886, 5966], [62.8, 57], color=BLUE, lw=1.5, zorder=4)
ax_c.text(5963, 49, IRK + '\nx rays', ha='left', va='center', fontsize=13,
          linespacing=1.05, zorder=5)

# ---------------------------------------------------------------- (e), (f)
e_E = np.array([p[0] for p in e_pairs])
e_C = np.array([p[1] for p in e_pairs], float)
f_E = np.array([p[0] for p in f_pairs])
f_C = np.array([p[1] for p in f_pairs], float)

gamma_hist(ax_e, e_E, e_C, 'k', 1.5)
gamma_hist(ax_f, f_E, f_C, 'k', 1.5)
for ax in (ax_e, ax_f):
    ax.set_xlim(0, 190)
    log_ticks(ax, [1, 10, 100, 1000], ['1', '10', r'10$^2$', r'10$^3$'], show=(ax is ax_e))
    ax.set_ylim(0.9, 1600)
    common_ticks(ax)
    ax.xaxis.set_major_locator(MultipleLocator(20))
    ax.xaxis.set_minor_locator(MultipleLocator(5))
    ax.set_xlabel(r'E$_{\mathrm{γ}}$ [keV]', fontsize=LABFS, labelpad=2)
    ax.set_ylabel('')
ax_e.set_ylabel('Counts / 0.25 keV', fontsize=LABFS, labelpad=4)

ax_e.text(0.037, 0.887, '(e)', transform=ax_e.transAxes, ha='center', va='center', fontsize=15)
ax_f.text(0.033, 0.887, '(f)', transform=ax_f.transAxes, ha='center', va='center', fontsize=15)

ax_e.text(70.8, 633, IRK + ' x rays', ha='center', va='center', fontsize=13)
brace(ax_e, 61, 78, 0.717, 0.075, lw=2.8, frac=0.12)
for lab, x, y in (('90.0', 87.5, 51), ('82.8', 82.5, 11.9), ('98.3', 97.2, 5.6),
                  ('115.7', 108.5, 8.9), ('174.8', 175.8, 5.6)):
    ax_e.text(x, y, lab, ha='center', va='center', fontsize=12.5)

ax_f.text(75.5, 190, IRK + ' x rays', ha='center', va='center', fontsize=13)
brace(ax_f, 62.5, 80, 0.552, 0.072, lw=2.8, frac=0.12)
for lab, x, y, ha in (('56.8', 53.2, 457, 'center'), ('67.4', 78.3, 38.6, 'center'),
                      ('91.2', 90.6, 29, 'center'), ('139.2', 138.8, 4.6, 'right')):
    ax_f.text(x, y, lab, ha=ha, va='center', fontsize=12.5)
ax_f.annotate('', xy=(68.2, 15), xytext=(72.8, 27),
              arrowprops=dict(arrowstyle='-|>', color='k', lw=1.0, mutation_scale=10,
                              shrinkA=0, shrinkB=0))

# ---------------------------------------------------------------- insets
ax_ei = ax_px(456, 548, 702, 661)
ax_fi = ax_px(1078, 548, 1326, 660)

gamma_hist(ax_ei, e_E, e_C, 'k', 1.5)
ax_ei.set_xlim(51.2, 98.6)
log_ticks(ax_ei, [1, 10, 100], ['1', '10', r'10$^2$'])
ax_ei.set_ylim(0.38, 1000)
common_ticks(ax_ei)
ax_ei.tick_params(labelsize=12)
ax_ei.xaxis.set_major_locator(FixedLocator([55, 60, 65, 70, 75, 80, 85, 90, 95]))
ax_ei.xaxis.set_minor_locator(MultipleLocator(1))
ax_ei.set_xlabel(r'E$_{\mathrm{γ}}$ [keV]', fontsize=12.5, labelpad=1)
ax_ei.set_ylabel('Counts', fontsize=13, labelpad=1)
ax_ei.text(69.9, 375, IRK + ' x rays', ha='center', va='center', fontsize=12.5)
for xe in (66.7, 71.8):
    ax_ei.annotate('', xy=(xe, 40), xytext=(69.3, 123),
                   arrowprops=dict(arrowstyle='-|>', color='k', lw=1.0, mutation_scale=10,
                                   shrinkA=0, shrinkB=0))

gamma_hist(ax_fi, e_E, e_C, BLUE, 1.6)
gamma_hist(ax_fi, f_E, f_C, RED, 1.6)
ax_fi.set_xlim(58.0, 93.1)
log_ticks(ax_fi, [1, 10, 100], ['1', '10', r'10$^2$'])
ax_fi.set_ylim(0.41, 330)
common_ticks(ax_fi)
ax_fi.tick_params(labelsize=13)
ax_fi.xaxis.set_major_locator(MultipleLocator(5))
ax_fi.xaxis.set_minor_locator(MultipleLocator(1))
ax_fi.set_xlabel(r'E$_{\mathrm{γ}}$ [keV]', fontsize=14.5, labelpad=1)
ax_fi.set_ylabel('Counts', fontsize=13, labelpad=1)
for lab, x, y, col in (('67.4', 67.5, 106, RED), ('82.8', 82.6, 30, BLUE),
                       ('90.0', 88.7, 87, BLUE), ('91.2', 91.8, 87, RED)):
    ax_fi.text(x, y, lab, ha='center', va='center', rotation=90, fontsize=12.5, color=col)

fig.savefig('out.png', dpi=100)
